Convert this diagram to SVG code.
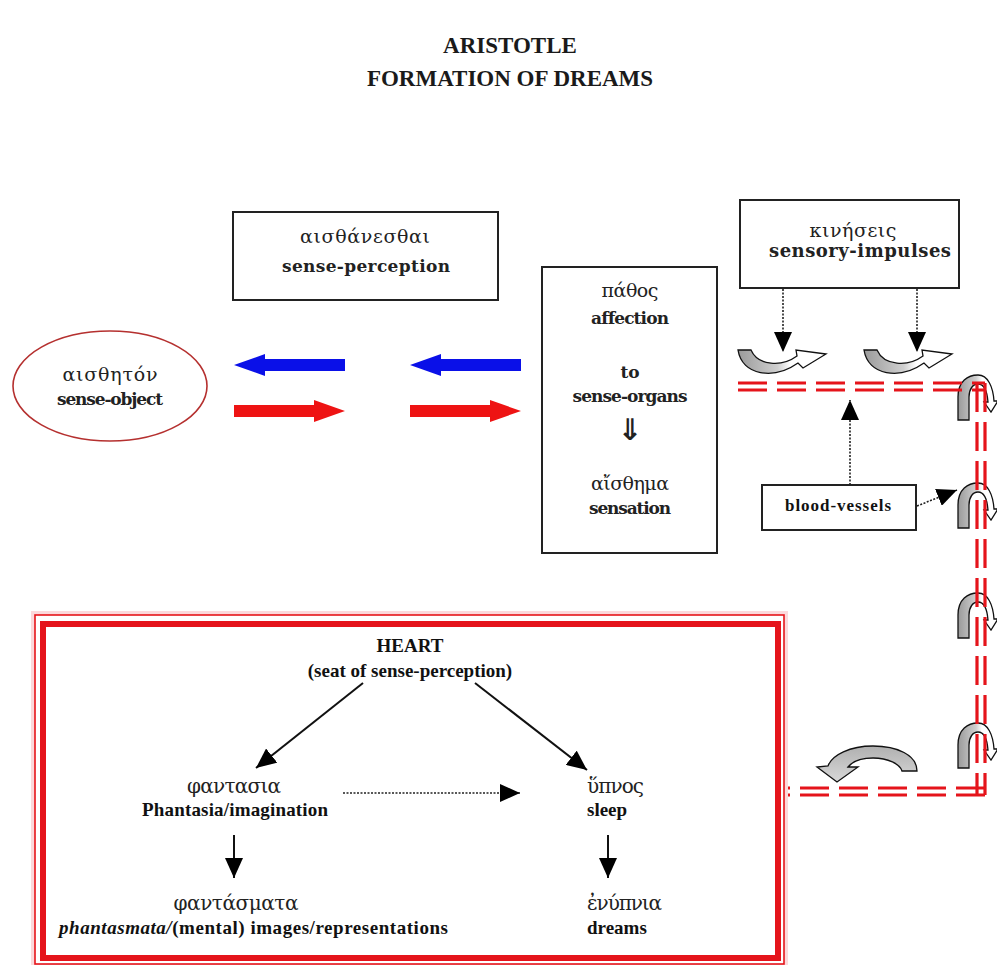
<svg xmlns="http://www.w3.org/2000/svg" width="997" height="965" viewBox="0 0 997 965">
<style>
 .title{font-family:"Liberation Serif","Times New Roman",serif;font-weight:bold;font-size:23px;fill:#1a1a1a;text-anchor:middle}
 .g{font-family:"DejaVu Serif",serif;font-size:19px;fill:#222;text-anchor:middle}
 .e{font-family:"DejaVu Serif",serif;font-weight:bold;font-size:17px;fill:#222;text-anchor:middle}
 .hb{font-family:"Liberation Serif","Times New Roman",serif;font-weight:bold;font-size:19px;fill:#111}
 .hg{font-family:"DejaVu Serif",serif;font-size:20px;fill:#222}
 .mid{text-anchor:middle}
 .box{fill:#fff;stroke:#222;stroke-width:2}
 .dot{stroke:#222;stroke-width:1.6;stroke-dasharray:2 1.5;fill:none}
 .ln{stroke:#111;stroke-width:2;fill:none}
 .rd{stroke:#e5141b;stroke-width:3.2;stroke-dasharray:29 10;fill:none}
 .curl{stroke:#111;stroke-width:1.3;fill:url(#gh)}
 .blue{fill:#0a10e8}
 .red{fill:#ee1313}
</style>
<defs>
 <marker id="ah" viewBox="0 0 20 18" refX="20" refY="9" markerWidth="20" markerHeight="18" markerUnits="userSpaceOnUse" orient="auto">
  <path d="M0,0 L20,9 L0,18 Z" fill="#000"/>
 </marker>
 <linearGradient id="gh" x1="0" y1="0" x2="1" y2="0">
  <stop offset="0" stop-color="#9a9a9a"/>
  <stop offset="0.45" stop-color="#cfcfcf"/>
  <stop offset="0.6" stop-color="#ffffff"/>
 </linearGradient>
 <linearGradient id="gv" x1="0" y1="0" x2="0" y2="1">
  <stop offset="0" stop-color="#b0b0b0"/>
  <stop offset="1" stop-color="#d8d8d8"/>
 </linearGradient>
 <path id="uarrow" d="M0,0 C4,26 36,30 60,13 L65,18 L88,4 L58,0 L59,6 C44,17 20,16 13,0 Z"/>
 <path id="arch" d="M-20,45 L-20,22 C-20,6 -10,0 0,0 C10,0 15,12 16,26 L20,26 L13,37 L6,27 L10,27 C9,15 5,9 0,9 C-5,9 -9,14 -9,22 L-9,45 Z"/>
</defs>

<rect width="997" height="965" fill="#fff"/>

<g id="title">
 <text class="title" x="510" y="53">ARISTOTLE</text>
 <text class="title" x="510" y="86">FORMATION OF DREAMS</text>
</g>

<g id="n-perception">
 <rect class="box" x="233" y="212" width="265" height="88"/>
 <text class="g" x="365" y="243" textLength="130">αισθάνεσθαι</text>
 <text class="e" x="366" y="272" textLength="168">sense-perception</text>
</g>

<g id="n-object">
 <ellipse cx="110" cy="386" rx="97" ry="55" fill="#fff" stroke="#b5302f" stroke-width="1.6"/>
 <text class="g" x="110" y="381" textLength="95">αισθητόν</text>
 <text class="e" x="110" y="405" textLength="106">sense-object</text>
</g>

<g id="n-affection">
 <rect class="box" x="542" y="267" width="175" height="286"/>
 <text class="g" x="630" y="297" textLength="57">πάθος</text>
 <text class="e" x="630" y="324" textLength="78">affection</text>
 <text class="e" x="630" y="378">to</text>
 <text class="e" x="630" y="402" textLength="115">sense-organs</text>
 <text x="630" y="440" style="font-family:'DejaVu Sans',sans-serif;font-weight:bold;font-size:30px;fill:#222;text-anchor:middle">⇓</text>
 <text class="g" x="630" y="490" textLength="78">αἴσθημα</text>
 <text class="e" x="630" y="514" textLength="82">sensation</text>
</g>

<g id="n-impulses">
 <rect class="box" x="740" y="200" width="219" height="88"/>
 <text class="g" x="853" y="237" textLength="87">κινήσεις</text>
 <text class="e" x="860" y="257" textLength="182" style="font-size:18px">sensory-impulses</text>
</g>

<g id="n-vessels">
 <rect class="box" x="762" y="485" width="154" height="45"/>
 <text class="hb mid" x="838" y="511" textLength="106" style="font-size:17px">blood-vessels</text>
</g>

<g id="connectors">
 <polygon class="blue" points="234,365 265,354 265,359 345,359 345,371 265,371 265,376"/>
 <polygon class="red" points="345,411 314,400 314,405 234,405 234,417 314,417 314,422"/>
 <polygon class="blue" points="410,365 441,354 441,359 521,359 521,371 441,371 441,376"/>
 <polygon class="red" points="521,411 490,400 490,405 410,405 410,417 490,417 490,422"/>

 <line class="dot" x1="783" y1="289" x2="783" y2="352" marker-end="url(#ah)"/>
 <line class="dot" x1="917" y1="289" x2="917" y2="352" marker-end="url(#ah)"/>
 <line class="dot" x1="850" y1="485" x2="850" y2="400" marker-end="url(#ah)"/>
 <line class="dot" x1="917" y1="506" x2="957" y2="490" marker-end="url(#ah)"/>

 <use href="#uarrow" class="curl" transform="translate(738,350)"/>
 <use href="#uarrow" class="curl" transform="translate(864,350)"/>
 <use href="#arch" class="curl" transform="translate(978,375)"/>
 <use href="#arch" class="curl" transform="translate(978,483)"/>
 <use href="#arch" class="curl" transform="translate(978,593)"/>
 <use href="#arch" class="curl" transform="translate(978,723)"/>

 <g id="vessel-lines">
  <path class="rd" d="M738,383 H985"/>
  <path class="rd" d="M738,390 H985"/>
  <path class="rd" d="M977,383 V795"/>
  <path class="rd" d="M985,383 V795"/>
  <path class="rd" d="M985,788 H784"/>
  <path class="rd" d="M985,795 H784"/>
 </g>

 <path d="M917,771 C917,755 897,746 873,746 C850,746 832,755 828,766 L817,767 L837,782 L858,767 L848,767 C852,762 861,758 873,758 C888,758 900,764 902,771 Z" fill="url(#gv)" stroke="#111" stroke-width="1.3"/>

 <line class="ln" x1="363" y1="683" x2="256" y2="768" marker-end="url(#ah)"/>
 <line class="ln" x1="475" y1="683" x2="587" y2="770" marker-end="url(#ah)"/>
 <line class="dot" x1="343" y1="793" x2="520" y2="793" marker-end="url(#ah)"/>
 <line class="ln" x1="234" y1="835" x2="234" y2="878" marker-end="url(#ah)"/>
 <line class="ln" x1="608" y1="835" x2="608" y2="878" marker-end="url(#ah)"/>
</g>

<g id="n-heart-box">
 <rect x="33" y="613" width="753" height="353" fill="none" stroke="#fbd9dc" stroke-width="4"/>
 <rect x="35" y="615" width="749" height="349" fill="none" stroke="#e5141b" stroke-width="1.6"/>
 <rect x="43" y="624" width="735" height="334" fill="none" stroke="#e5141b" stroke-width="6"/>
</g>

<g id="n-heart">
 <text class="hb mid" x="410" y="652">HEART</text>
 <text class="hb mid" x="410" y="677">(seat of sense-perception)</text>
</g>
<g id="n-phantasia">
 <text class="hg mid" x="234" y="793" textLength="94">φαντασια</text>
 <text class="hb mid" x="235" y="816" textLength="186">Phantasia/imagination</text>
</g>
<g id="n-sleep">
 <text class="hg" x="587" y="793" textLength="57">ὕπνος</text>
 <text class="hb" x="587" y="816">sleep</text>
</g>
<g id="n-phantasmata">
 <text class="hg mid" x="236" y="910" textLength="125">φαντάσματα</text>
 <text class="hb" x="59" y="934" textLength="389"><tspan font-style="italic">phantasmata/</tspan>(mental) images/representations</text>
</g>
<g id="n-dreams">
 <text class="hg" x="587" y="910" textLength="75">ἐνύπνια</text>
 <text class="hb" x="587" y="934">dreams</text>
</g>
</svg>
